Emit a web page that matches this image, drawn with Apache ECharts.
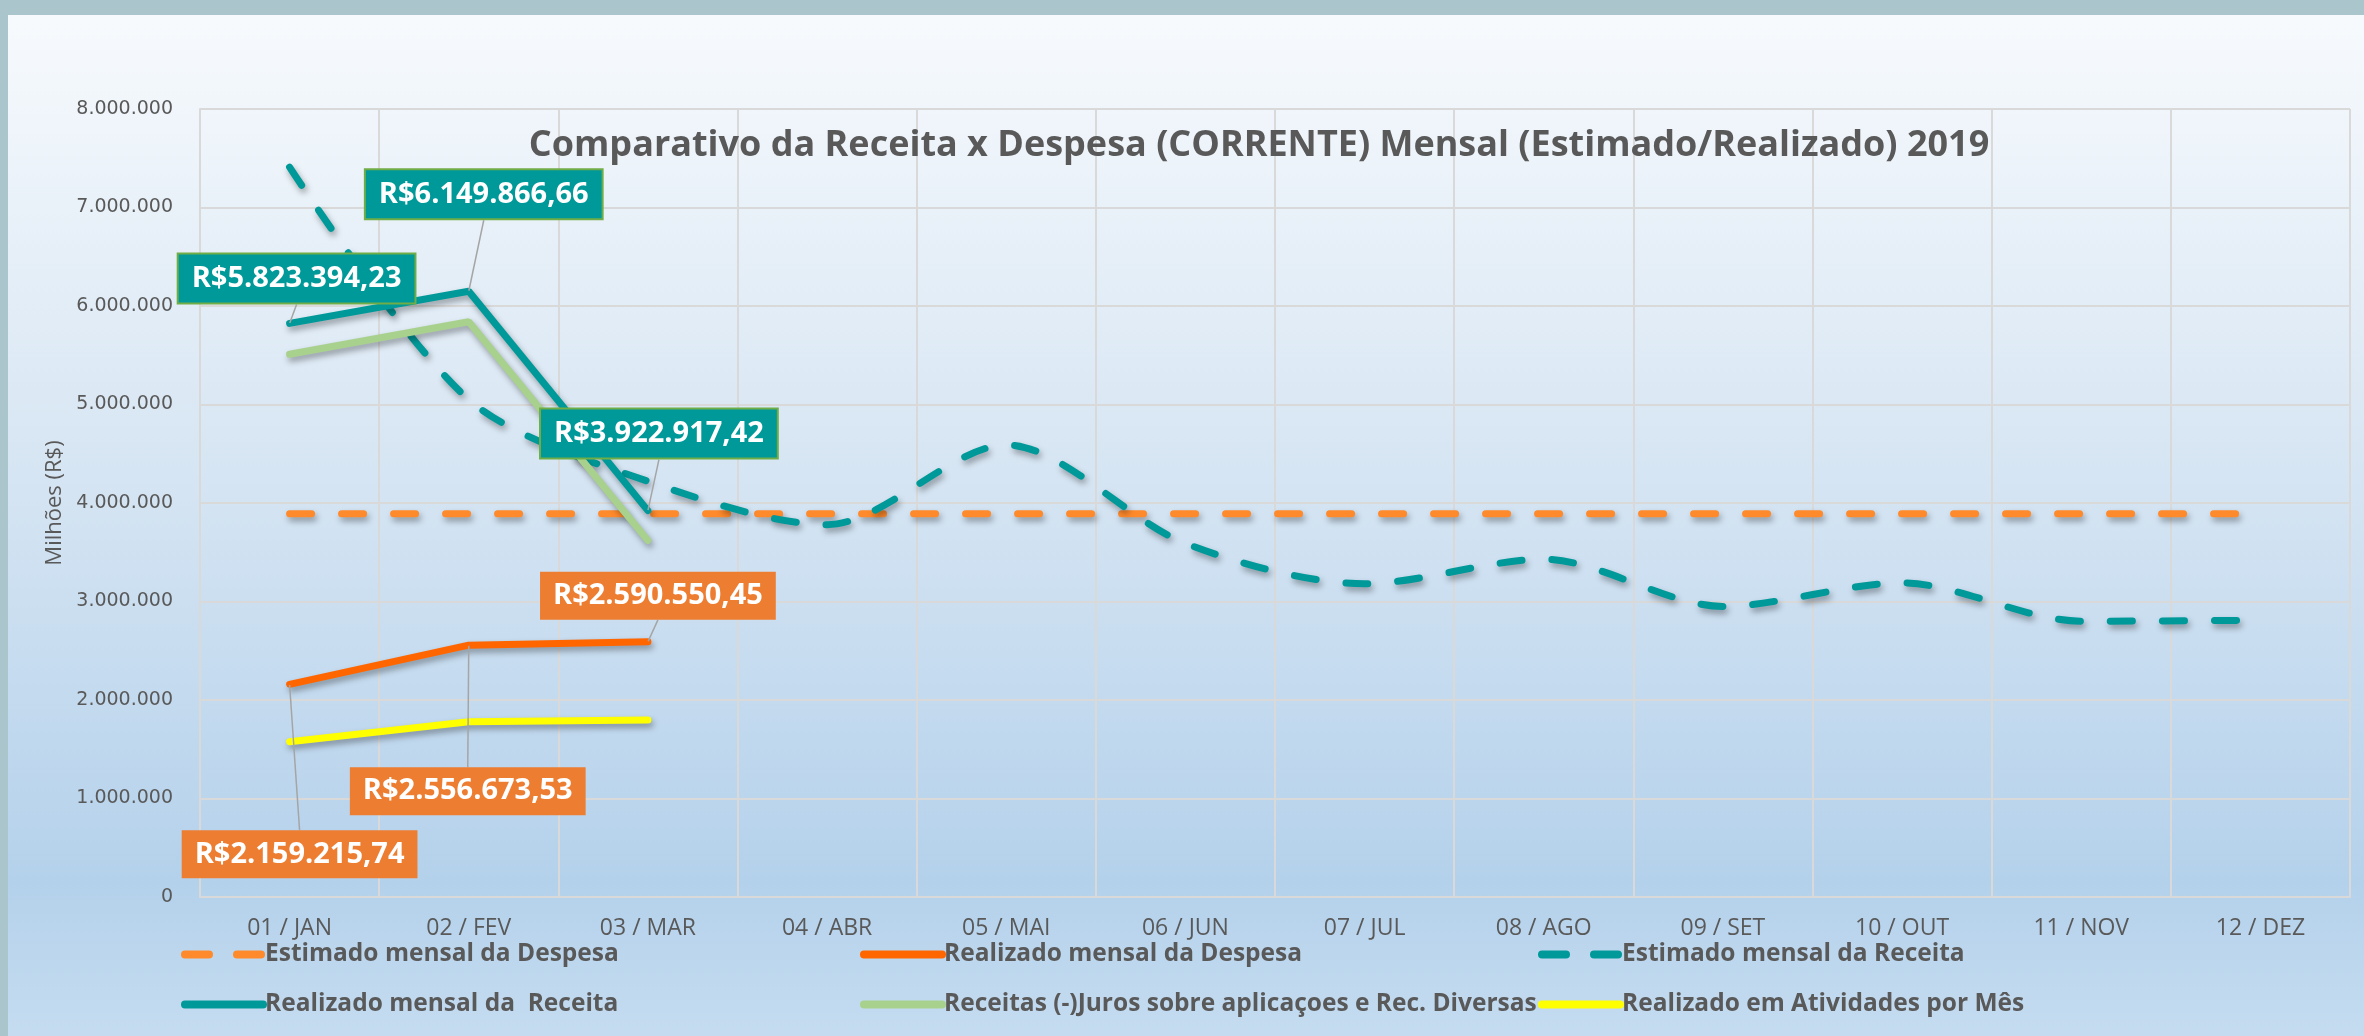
<!DOCTYPE html>
<html>
<head>
<meta charset="utf-8">
<title>Comparativo da Receita x Despesa 2019</title>
<script src="https://cdn.jsdelivr.net/npm/echarts@6/dist/echarts.min.js"></script>
<style>
  html, body { margin: 0; padding: 0; background: #abc5cd; }
  #chart { width: 2364px; height: 1036px; }
</style>
</head>
<body>
<div id="chart"></div>
<script>
// dados
var months = ['01 / JAN', '02 / FEV', '03 / MAR', '04 / ABR', '05 / MAI', '06 / JUN',
              '07 / JUL', '08 / AGO', '09 / SET', '10 / OUT', '11 / NOV', '12 / DEZ'];
var estimadoDespesa = [3890000, 3890000, 3890000, 3890000, 3890000, 3890000,
                       3890000, 3890000, 3890000, 3890000, 3890000, 3890000];
var realizadoDespesa = [2159215.74, 2556673.53, 2590550.45];
var estimadoReceita = [7410000, 5050000, 4220000, 3780000, 4590000, 3590000,
                       3180000, 3430000, 2950000, 3190000, 2800000, 2810000];
var realizadoReceita = [5823394.23, 6149866.66, 3922917.42];
var receitasSemJuros = [5510000, 5840000, 3620000];
var realizadoAtividades = [1577000, 1780000, 1797000];

var seriesNames = [
  'Estimado mensal da Despesa',
  'Realizado mensal da Despesa',
  'Estimado mensal da Receita',
  'Realizado mensal da  Receita',
  'Receitas (-)Juros sobre aplicaçoes e Rec. Diversas',
  'Realizado em Atividades por Mês'
];
var seriesColors = ['#ff8a2b', '#ff6600', '#009999', '#009999', '#a9d18e', '#ffff00'];
var seriesDashed = [true, false, true, false, false, false];

// deslocamento das caixas de rotulo (px)
var despesaLabelShift = [[10, 170], [-1, 146], [10, -46]];
var receitaLabelShift = [[7, -45], [15, -97], [11, -77]];

var FONT = "'Open Sans', sans-serif";
var GRAY = '#595959';

function milhar(n) {
  return String(n).replace(/\B(?=(\d{3})+(?!\d))/g, '.');
}
function reais(v) {
  var parts = v.toFixed(2).split('.');
  return 'R$' + milhar(parts[0]) + ',' + parts[1];
}

var shadow = {
  shadowColor: 'rgba(0,0,0,0.35)',
  shadowBlur: 6,
  shadowOffsetX: 2,
  shadowOffsetY: 4
};

function boxLabel(bg, border) {
  return {
    show: true,
    position: 'inside',
    formatter: function (p) { return reais(p.value); },
    backgroundColor: bg,
    borderColor: border,
    borderWidth: border ? 2 : 0,
    padding: [7, 13, 6, 13],
    color: '#ffffff',
    fontFamily: FONT,
    fontWeight: 'bold',
    fontSize: 29,
    lineHeight: 35
  };
}

var chart = echarts.init(document.getElementById('chart'));

var legendCols = [181, 860, 1538];
var legendRows = [942, 992];
var legends = seriesNames.map(function (name, i) {
  return {
    left: legendCols[i % 3],
    top: legendRows[Math.floor(i / 3)],
    padding: 0,
    itemWidth: 78,
    itemHeight: 20,
    itemGap: 0,
    itemStyle: { opacity: 0 },
    lineStyle: {
      color: seriesColors[i],
      width: 8,
      type: seriesDashed[i] ? [24, 28] : 'solid',
      cap: 'round',
      shadowBlur: 0,
      shadowOffsetX: 0,
      shadowOffsetY: 0
    },
    textStyle: { color: GRAY, fontFamily: FONT, fontWeight: 'bold', fontSize: 24.5, padding: [0, 0, 0, -3] },
    data: [name],
    selectedMode: false
  };
});

chart.setOption({
  animation: false,
  graphic: [
    {
      type: 'rect', z: -10, silent: true,
      shape: { x: 8, y: 15, width: 2356, height: 1021 },
      style: {
        fill: new echarts.graphic.LinearGradient(0, 0, 0, 1, [
          { offset: 0, color: '#f7fafd' },
          { offset: 0.45, color: '#d6e5f3' },
          { offset: 0.85, color: '#b4d1eb' },
          { offset: 1, color: '#c5dcf0' }
        ])
      }
    },
    {
      type: 'text', z: 5, silent: true,
      x: 1259, y: 146,
      style: {
        text: 'Comparativo da Receita x Despesa (CORRENTE) Mensal (Estimado/Realizado) 2019',
        fill: GRAY,
        font: 'bold 36px ' + FONT,
        textAlign: 'center',
        textVerticalAlign: 'middle'
      }
    }
  ],
  grid: { left: 200, right: 14, top: 109, bottom: 139 },
  legend: legends,
  xAxis: {
    type: 'category',
    data: months,
    boundaryGap: true,
    axisLine: { lineStyle: { color: '#d9d9d9', width: 2 } },
    axisTick: { show: false },
    axisLabel: { color: GRAY, fontFamily: FONT, fontSize: 23, margin: 20, interval: 0 },
    splitLine: { show: true, interval: 0, lineStyle: { color: '#d9d9d9', width: 2 } }
  },
  yAxis: {
    type: 'value',
    min: 0,
    max: 8000000,
    interval: 1000000,
    name: 'Milhões (R$)',
    nameLocation: 'middle',
    nameRotate: 90,
    nameGap: 120,
    nameTextStyle: { color: GRAY, fontFamily: FONT, fontSize: 22 },
    axisLine: { show: true, lineStyle: { color: '#d9d9d9', width: 2 } },
    axisTick: { show: false },
    axisLabel: { color: GRAY, fontFamily: "'DejaVu Sans', sans-serif", fontSize: 19, margin: 27,
                 formatter: function (v) { return milhar(v); } },
    splitLine: { lineStyle: { color: '#d9d9d9', width: 2 } }
  },
  series: [
    {
      name: seriesNames[0], type: 'line', data: estimadoDespesa, symbol: 'none', z: 2,
      lineStyle: Object.assign({ color: seriesColors[0], width: 7, type: [22, 30], cap: 'round' }, shadow),
      itemStyle: { color: seriesColors[0] }
    },
    {
      name: seriesNames[1], type: 'line', data: realizadoDespesa, symbol: 'circle', symbolSize: 1, z: 6,
      lineStyle: Object.assign({ color: seriesColors[1], width: 7, cap: 'round' }, shadow),
      itemStyle: { color: seriesColors[1] },
      label: boxLabel('#ed7d31', null),
      labelLine: { show: true, lineStyle: { color: '#a5a5a5', width: 1.5 } },
      labelLayout: function (p) {
        var s = despesaLabelShift[p.dataIndex];
        return { dx: s[0], dy: s[1] };
      }
    },
    {
      name: seriesNames[2], type: 'line', data: estimadoReceita, symbol: 'none', smooth: 0.3, z: 3,
      lineStyle: Object.assign({ color: seriesColors[2], width: 7, type: [22, 30], cap: 'round' }, shadow),
      itemStyle: { color: seriesColors[2] }
    },
    {
      name: seriesNames[3], type: 'line', data: realizadoReceita, symbol: 'circle', symbolSize: 1, z: 6,
      lineStyle: Object.assign({ color: seriesColors[3], width: 7, cap: 'round' }, shadow),
      itemStyle: { color: seriesColors[3] },
      label: boxLabel('#009999', '#70ad47'),
      labelLine: { show: true, lineStyle: { color: '#a5a5a5', width: 1.5 } },
      labelLayout: function (p) {
        var s = receitaLabelShift[p.dataIndex];
        return { dx: s[0], dy: s[1] };
      }
    },
    {
      name: seriesNames[4], type: 'line', data: receitasSemJuros, symbol: 'none', z: 4,
      lineStyle: Object.assign({ color: seriesColors[4], width: 7, cap: 'round' }, shadow),
      itemStyle: { color: seriesColors[4] }
    },
    {
      name: seriesNames[5], type: 'line', data: realizadoAtividades, symbol: 'none', z: 4,
      lineStyle: Object.assign({ color: seriesColors[5], width: 7, cap: 'round' }, shadow),
      itemStyle: { color: seriesColors[5] }
    }
  ]
});
</script>
</body>
</html>
